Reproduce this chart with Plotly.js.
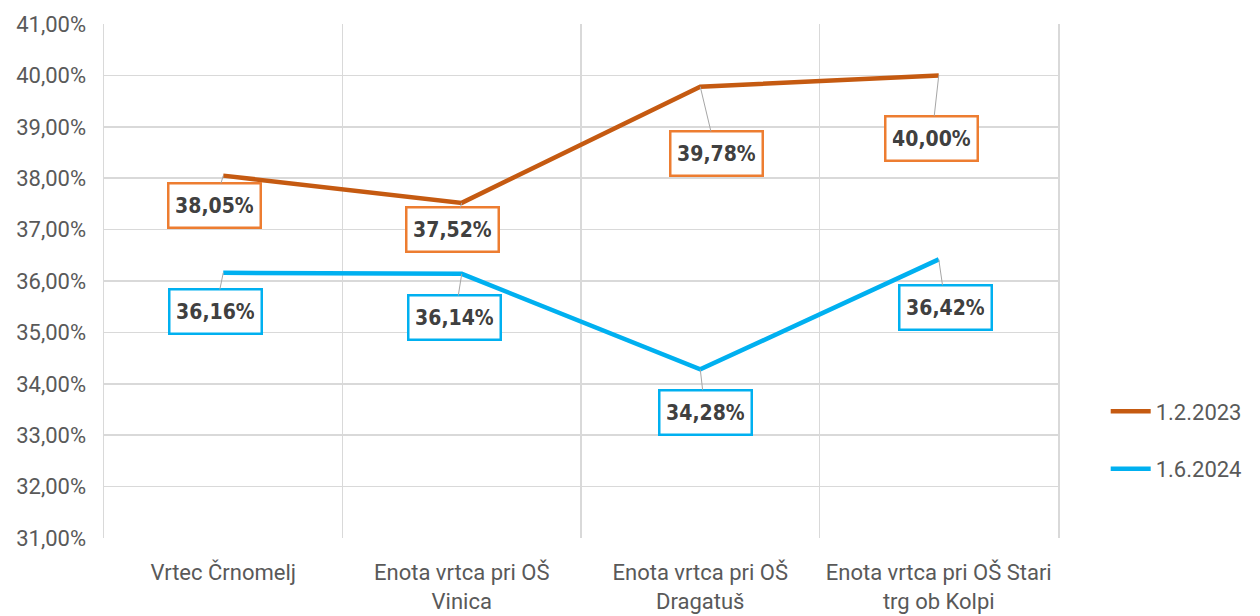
<!DOCTYPE html>
<html><head><meta charset="utf-8">
<script src="https://cdn.plot.ly/plotly-3.0.1.min.js"></script>
<style>body{margin:0;background:#fff}#c{width:1260px;height:616px}</style>
</head><body><div id="c"></div>
<script>
const categories = ["Vrtec Črnomelj", "Enota vrtca pri OŠ<br>Vinica", "Enota vrtca pri OŠ<br>Dragatuš", "Enota vrtca pri OŠ Stari<br>trg ob Kolpi"];
const seriesNames = ["1.2.2023", "1.6.2024"];
const values2023 = [38.05, 37.52, 39.78, 40.00];
const values2024 = [36.16, 36.14, 34.28, 36.42];
const labelOffset2023 = [[-9, 30], [-9, 27], [16, 67], [-7, 63]];
const labelOffset2024 = [[-8, 39], [-7, 44], [5, 43], [7, 48]];

const fmt = v => v.toFixed(2).replace('.', ',') + '%';
const traces = [
  {x: categories, y: values2023, name: seriesNames[0], type: 'scatter', mode: 'lines',
   line: {color: '#C55A11', width: 4.5}, legendgroup: 'a', hoverinfo: 'skip'},
  {x: categories, y: values2024, name: seriesNames[1], type: 'scatter', mode: 'lines',
   line: {color: '#00B0F0', width: 4.5}, legendgroup: 'b', hoverinfo: 'skip'}
];
const ann = [];
function addLabels(vals, offs, border) {
  vals.forEach((v, i) => ann.push({
    x: categories[i], y: v, xref: 'x', yref: 'y', text: '<b>' + fmt(v) + '</b>',
    showarrow: true, arrowhead: 0, arrowwidth: 1, arrowcolor: '#a6a6a6',
    ax: offs[i][0], ay: offs[i][1], standoff: 0,
    width: 78, height: 30,
    bgcolor: '#ffffff', bordercolor: border, borderwidth: 2.5, borderpad: 6,
    font: {family: 'DejaVu Sans Condensed, Roboto, sans-serif', size: 21, color: '#404040'}
  }));
}
addLabels(values2023, labelOffset2023, '#ED7D31');
addLabels(values2024, labelOffset2024, '#00B0F0');

const layout = {
  width: 1260, height: 616,
  margin: {l: 104, r: 202, t: 24, b: 78},
  paper_bgcolor: '#fff', plot_bgcolor: '#fff',
  separators: ', ',
  font: {family: 'Roboto, sans-serif', color: '#595959'},
  xaxis: {type: 'category', tickson: 'boundaries', showgrid: true, gridcolor: '#d9d9d9', gridwidth: 1.5,
    ticks: '', showline: false, zeroline: false, range: [-0.5, 3.5], ticklabelstandoff: 19,
    tickfont: {size: 22, color: '#595959'}},
  yaxis: {range: [31, 41], dtick: 1, tick0: 31, tickformat: '.2f', ticksuffix: '%',
    showgrid: true, gridcolor: '#d9d9d9', gridwidth: 1.5, zeroline: false,
    showline: true, mirror: true, linecolor: '#d9d9d9', linewidth: 1.5,
    ticks: '', ticklen: 0, ticklabelstandoff: 12, tickfont: {size: 22, color: '#595959'}},
  showlegend: true,
  legend: {x: 1.05, xanchor: 'left', y: 0.19, yanchor: 'middle', traceorder: 'grouped', tracegroupgap: 26,
    font: {size: 22, color: '#595959'}, itemwidth: 40, bgcolor: 'rgba(0,0,0,0)'},
  annotations: ann
};
Plotly.newPlot('c', traces, layout, {staticPlot: true});
</script></body></html>
